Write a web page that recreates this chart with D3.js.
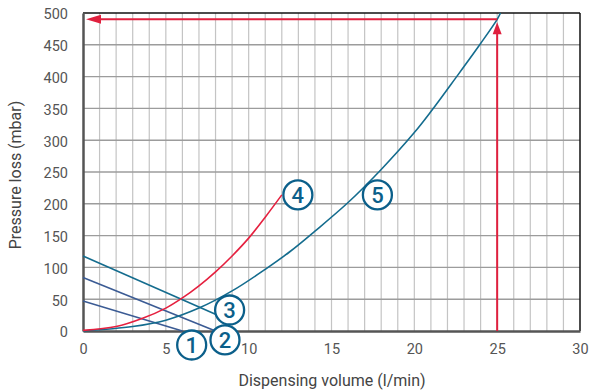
<!DOCTYPE html>
<html><head><meta charset="utf-8">
<script src="https://cdn.jsdelivr.net/npm/d3@7"></script>
<style>body{margin:0;background:#fff}svg{display:block}text{font-family:Roboto,"DejaVu Sans",sans-serif}</style>
</head><body><svg id="c" width="589" height="392"></svg>
<script>
const xTicks=[0,5,10,15,20,25,30];
const yTicks=[0,50,100,150,200,250,300,350,400,450,500];
const line1=[[0,47],[6,0]];
const line2=[[0,84],[8,0]];
const line3=[[0,118],[8.1,25]];
const line4=[[0,1],[2,7],[3.6,20],[5,36],[6,52],[7,71],[8,93],[9,118],[10,146],[11,179],[12,214]];
const line5=[[0,0],[3,7],[5,17],[7,36],[9,63],[11,97],[12.5,125],[14,157],[16,202],[18,254],[20,312],[21,345],[22.5,398],[24,452],[25,490],[25.2,500]];
const labels=[{t:"1",x:6.56,y:-22},{t:"2",x:8.57,y:-14},{t:"3",x:8.85,y:33},{t:"4",x:12.97,y:214},{t:"5",x:17.77,y:214}];
const arrowX=25, arrowY=490;

const svg=d3.select("#c");
const x=d3.scaleLinear().domain([0,30]).range([83,580]);
const y=d3.scaleLinear().domain([0,500]).range([331,13]);

// grid
svg.append("g").selectAll("line").data(d3.range(1,30)).join("line")
 .attr("x1",d=>x(d)).attr("x2",d=>x(d)).attr("y1",y(0)).attr("y2",y(500))
 .attr("stroke","#c4c4c4").attr("stroke-width",1.2);
svg.append("g").selectAll("line").data(yTicks.slice(1,-1)).join("line")
 .attr("x1",x(0)).attr("x2",x(30)).attr("y1",d=>y(d)).attr("y2",d=>y(d))
 .attr("stroke","#9c9c9c").attr("stroke-width",1.4);
// border
svg.append("line").attr("x1",x(0)).attr("x2",x(30)).attr("y1",y(500)).attr("y2",y(500)).attr("stroke","#111").attr("stroke-width",1.5);
svg.append("line").attr("x1",x(30)).attr("x2",x(30)).attr("y1",y(0)).attr("y2",y(500)).attr("stroke","#111").attr("stroke-width",1.5);

// axes
const ax=svg.append("g").attr("transform",`translate(0,${y(0)})`).call(d3.axisBottom(x).tickValues(xTicks).tickSize(0).tickPadding(13));
const ay=svg.append("g").attr("transform",`translate(${x(0)},0)`).call(d3.axisLeft(y).tickValues(yTicks).tickSize(0).tickPadding(15));
[ax,ay].forEach(g=>{g.select(".domain").attr("stroke","#555").attr("stroke-width",2.5);
 g.selectAll("text").attr("font-size",14.5).attr("fill","#555");});
ay.selectAll("text").attr("dy","0.4em");

svg.append("text").attr("x",332).attr("y",386).attr("text-anchor","middle").attr("font-size",16).attr("fill","#444").text("Dispensing volume (l/min)");
svg.append("text").attr("transform","translate(21,175) rotate(-90)").attr("text-anchor","middle").attr("font-size",16).attr("fill","#444").text("Pressure loss (mbar)");

const ln=d3.line().x(d=>x(d[0])).y(d=>y(d[1])).curve(d3.curveCatmullRom);
const series=[[line1,"#3b5b94"],[line2,"#3b5b94"],[line3,"#146c8e"],[line5,"#146c8e"],[line4,"#e5203f"]];
series.forEach(([d,c])=>svg.append("path").attr("d",ln(d)).attr("fill","none").attr("stroke",c).attr("stroke-width",1.6));

// arrows
const red="#e0203e";
svg.append("line").attr("x1",x(arrowX)).attr("x2",x(arrowX)).attr("y1",y(0)).attr("y2",y(arrowY)+10).attr("stroke",red).attr("stroke-width",2);
svg.append("path").attr("d",`M${x(arrowX)},${y(arrowY)+3}l-4.5,12h9z`).attr("fill",red);
svg.append("line").attr("x1",x(arrowX)).attr("x2",x(0)+12).attr("y1",y(arrowY)).attr("y2",y(arrowY)).attr("stroke",red).attr("stroke-width",2);
svg.append("path").attr("d",`M${x(0)+3},${y(arrowY)}l15,-4.5v9z`).attr("fill",red);

// circled labels
const lg=svg.append("g").selectAll("g").data(labels).join("g").attr("transform",d=>`translate(${x(d.x)},${y(d.y)})`);
lg.append("circle").attr("r",14.5).attr("fill","#fff").attr("stroke","#0b5f8a").attr("stroke-width",2.3);
lg.append("text").attr("text-anchor","middle").attr("dy","0.36em").attr("font-size",22).attr("font-weight",500).attr("fill","#0b5f8a").text(d=>d.t);
</script></body></html>
